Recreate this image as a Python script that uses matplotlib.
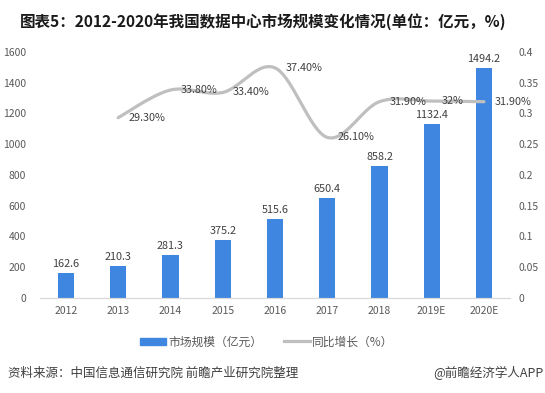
#!/usr/bin/env python
from matplotlib import pyplot as plt
from matplotlib.lines import Line2D
from matplotlib.patches import Patch
import numpy as np

plt.rcParams['font.family'] = ['Noto Sans CJK SC', 'DejaVu Sans']

years = ["2012", "2013", "2014", "2015", "2016", "2017", "2018", "2019E", "2020E"]
market = [162.6, 210.3, 281.3, 375.2, 515.6, 650.4, 858.2, 1132.4, 1494.2]
growth_years = years[1:]
growth = [0.293, 0.338, 0.334, 0.374, 0.261, 0.319, 0.32, 0.319]
growth_labels = ["29.30%", "33.80%", "33.40%", "37.40%", "26.10%", "31.90%", "32%", "31.90%"]

blue = "#3F86E0"
gray = "#BFBFBF"
txt = "#404040"


def smooth(x, y, n=30):
    # catmull-rom style curve through the points, like excel's smoothed line
    x = np.asarray(x, float)
    y = np.asarray(y, float)
    px = np.concatenate([[x[0]], x, [x[-1]]])
    py = np.concatenate([[y[0]], y, [y[-1]]])
    xs, ys = [], []
    t = np.linspace(0, 1, n)
    for i in range(1, len(px) - 2):
        p0, p1, p2, p3 = [np.array([px[j], py[j]]) for j in range(i - 1, i + 3)]
        c1 = p1 + (p2 - p0) / 6
        c2 = p2 - (p3 - p1) / 6
        pts = ((1 - t) ** 3)[:, None] * p1 + (3 * (1 - t) ** 2 * t)[:, None] * c1 \
            + (3 * (1 - t) * t ** 2)[:, None] * c2 + (t ** 3)[:, None] * p2
        xs.extend(pts[:, 0])
        ys.extend(pts[:, 1])
    return xs, ys


fig = plt.figure(figsize=(5.45, 3.93), dpi=100)
ax = fig.add_axes([0.073, 0.242, 0.863, 0.626])
ax2 = ax.twinx()

xpos = np.arange(len(years))
ax.bar(xpos, market, width=0.31, color=blue, zorder=2)
for x, v in zip(xpos, market):
    ax.text(x, v + 25, "{}".format(v), ha="center", va="bottom", fontsize=7.8, color=txt)

gx = xpos[1:]
sx, sy = smooth(gx, growth)
ax2.plot(sx, sy, color=gray, linewidth=2.3, solid_capstyle="round", zorder=3)
for x, v, lab in zip(gx, growth, growth_labels):
    ax2.text(x + 0.2, v, lab, ha="left", va="center", fontsize=7.8, color=txt)

ax.set_xlim(-0.5, len(years) - 0.5)
ax.set_ylim(0, 1600)
ax.set_yticks(range(0, 1601, 200))
ax2.set_ylim(0, 0.4)
ax2.set_yticks(np.arange(0, 0.401, 0.05))
ax2.set_yticklabels(["0", "0.05", "0.1", "0.15", "0.2", "0.25", "0.3", "0.35", "0.4"])
ax.set_xticks(xpos)
ax.set_xticklabels(years)

for a in (ax, ax2):
    for s in ("top", "left", "right"):
        a.spines[s].set_visible(False)
    a.spines["bottom"].set_color("#D9D9D9")
    a.tick_params(length=0, labelsize=7.5, labelcolor="#595959")
ax.tick_params(axis="x", pad=6)
ax.tick_params(axis="y", pad=10)
ax2.tick_params(axis="y", pad=6)
ax.set_zorder(ax2.get_zorder() - 1)
ax2.patch.set_visible(False)

handles = [Patch(color=blue), Line2D([0], [0], color=gray, linewidth=2.3)]
fig.legend(handles, ["市场规模（亿元）", "同比增长（%）"], loc="center",
           bbox_to_anchor=(0.49, 0.13), ncol=2, frameon=False, fontsize=8.5,
           handlelength=2.2, handleheight=0.6, columnspacing=1.8, handletextpad=0.2,
           labelcolor="#595959")

fig.text(0.482, 0.945, "图表5：2012-2020年我国数据中心市场规模变化情况(单位：亿元，%)",
         ha="center", va="center", fontsize=11.2, fontweight="bold", color="#1a1a1a")
fig.text(0.014, 0.05, "资料来源：中国信息通信研究院 前瞻产业研究院整理",
         ha="left", va="center", fontsize=9, color="#404040")
fig.text(0.997, 0.05, "@前瞻经济学人APP",
         ha="right", va="center", fontsize=9, color="#404040")

plt.savefig("out.png", dpi=100)
